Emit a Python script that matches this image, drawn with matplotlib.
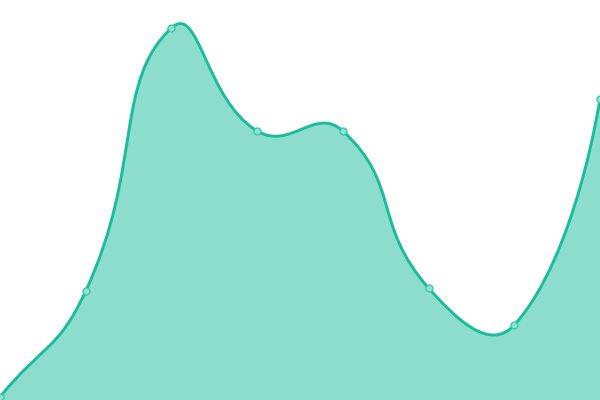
import matplotlib
matplotlib.use("Agg")
import matplotlib.pyplot as plt
import numpy as np
from matplotlib.path import Path
from matplotlib.patches import PathPatch

# values (y axis runs 0..400, no axes shown)
categories = ["A", "B", "C", "D", "E", "F", "G", "H"]
values = [3, 109, 372, 269, 269, 112, 75, 301]

LINE = "#1abc9c"
SMOOTH = 0.5


def smooth_controls(pts, smooth=SMOOTH):
    # bezier control points, same idea as a smoothed echarts line
    n = len(pts)
    cp_out = [None] * n
    cp_in = [None] * n
    for i in range(n):
        p = pts[i]
        if i == n - 1:
            cp_in[i] = p
            cp_out[i] = p
            continue
        prev = pts[i - 1] if i > 0 else p
        nxt = pts[i + 1]
        v = nxt - prev
        d0 = np.hypot(*(p - prev))
        d1 = np.hypot(*(nxt - p))
        r = d1 / (d0 + d1)
        cp_out[i] = p + v * smooth * r
        cp_in[i] = p - v * smooth * (1 - r)
    return [(cp_out[i], cp_in[i + 1], pts[i + 1]) for i in range(n - 1)]


fig = plt.figure(figsize=(6, 4), dpi=100, facecolor="white")
ax = fig.add_axes([0, 0, 1, 1])
ax.set_xlim(0, len(categories) - 1)
ax.set_ylim(0, 400)
ax.axis("off")

x = np.arange(len(categories))
disp = ax.transData.transform(np.column_stack([x, values]))
segs = smooth_controls(disp)

verts = [disp[0]]
codes = [Path.MOVETO]
for c1, c2, p in segs:
    verts += [c1, c2, p]
    codes += [Path.CURVE4] * 3
inv = ax.transData.inverted()
line_verts = inv.transform(np.array(verts))

area_verts = np.vstack([line_verts, [[x[-1], 0], [x[0], 0], line_verts[0]]])
area_codes = codes + [Path.LINETO, Path.LINETO, Path.CLOSEPOLY]

ax.add_patch(PathPatch(Path(area_verts, area_codes), facecolor=LINE,
                       alpha=0.5, edgecolor="none"))
ax.add_patch(PathPatch(Path(line_verts, codes), facecolor="none",
                       edgecolor=LINE, linewidth=2.1, capstyle="round"))
ax.plot(x, values, "o", markersize=5, markerfacecolor="#8fe3d2",
        markeredgecolor="#3cc9a9", markeredgewidth=1.0, clip_on=False)

fig.savefig("out.png", dpi=100, facecolor="white")
